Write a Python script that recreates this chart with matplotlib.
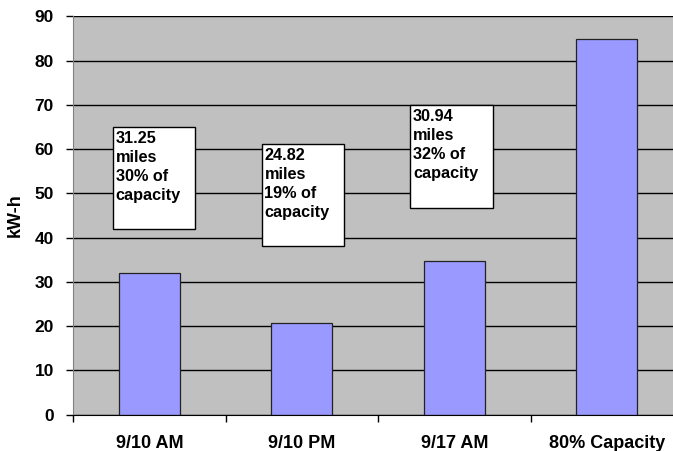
"""Bar chart: kW-h per charge with annotated mileage boxes."""
import matplotlib
matplotlib.use("Agg")
import matplotlib.pyplot as plt
from matplotlib.patches import Rectangle

plt.rcParams["font.family"] = ["Liberation Sans", "DejaVu Sans"]
plt.rcParams["font.weight"] = "bold"

CATEGORIES = ["9/10 AM", "9/10 PM", "9/17 AM", "80% Capacity"]
KWH = [32.0, 20.7, 34.6, 84.8]
NOTES = [
    "31.25\nmiles\n30% of\ncapacity",
    "24.82\nmiles\n19% of\ncapacity",
    "30.94\nmiles\n32% of\ncapacity",
]
YTICKS = list(range(0, 91, 10))

# note box placement in data coords: (x_left, x_right, y_bottom, y_top)
BOX_POS = [(-0.241, 0.30, 42.0, 65.0),
           (0.736, 1.278, 38.1, 61.1),
           (1.711, 2.256, 46.7, 69.9)]


def main():
    fig = plt.figure(figsize=(6.73, 4.51), dpi=100)
    ax = fig.add_axes([0.1089, 0.0809, 0.906, 0.8827])
    ax.set_facecolor("#C0C0C0")

    x = list(range(len(CATEGORIES)))
    ax.set_axisbelow(True)
    ax.yaxis.grid(True, color="black", linewidth=1.0)
    ax.bar(x, KWH, width=0.4, color="#9999FF", edgecolor="#222222",
           linewidth=0.9, zorder=2)

    ax.set_xlim(-0.5, 3.5)
    ax.set_ylim(0, 90)
    ax.set_yticks(YTICKS)
    ax.set_xticks(x)
    ax.set_xticklabels(CATEGORIES, fontsize=13, fontweight="bold")
    ax.set_xticks([-0.5, 0.5, 1.5, 2.5, 3.5], minor=True)
    ax.tick_params(axis="x", which="major", length=0, pad=15)
    ax.tick_params(axis="x", which="minor", length=5, width=1, direction="out")
    ax.tick_params(axis="y", length=5, width=1, direction="out", pad=9,
                   labelsize=12.5)
    for lab in ax.get_yticklabels():
        lab.set_fontweight("bold")

    for s in ("top", "right"):
        ax.spines[s].set_visible(False)
    ax.spines["left"].set_color("#808080")
    ax.spines["bottom"].set_color("black")

    ax.set_ylabel("kW-h", fontsize=13, fontweight="bold", labelpad=8)

    for (x0, x1, y0, y1), note in zip(BOX_POS, NOTES):
        ax.add_patch(Rectangle((x0, y0), x1 - x0, y1 - y0, facecolor="white",
                               edgecolor="black", linewidth=1.0, zorder=3))
        ax.text(x0 + 0.018, y1 - 0.9, note, ha="left", va="top",
                fontsize=11.7, fontweight="bold", linespacing=1.32, zorder=4)

    fig.savefig("out.png", dpi=100)


if __name__ == "__main__":
    main()
